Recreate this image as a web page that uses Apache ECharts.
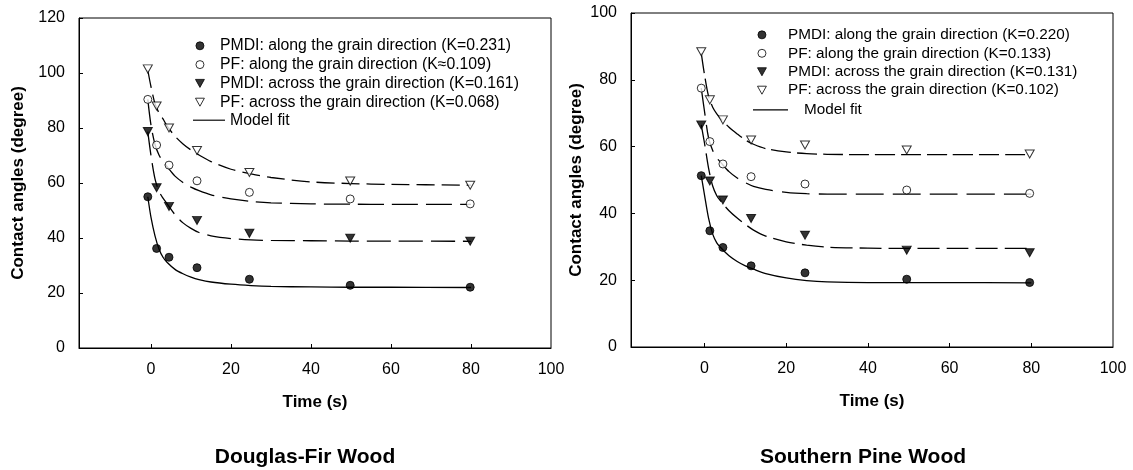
<!DOCTYPE html>
<html>
<head>
<meta charset="utf-8">
<script src="https://cdn.jsdelivr.net/npm/echarts@6/dist/echarts.min.js"></script>
<style>
  html, body { margin: 0; padding: 0; background: #fff; }
  #chart { width: 1133px; height: 470px; }
</style>
</head>
<body>
<div id="chart"></div>
<script>
// measured times (s) of the marker columns
var dfTime = [-0.8, 1.4, 4.5, 11.5, 24.6, 49.8, 79.8];
var spTime = [-0.8, 1.3, 4.5, 11.4, 24.6, 49.5, 79.6];

// Douglas-Fir points (degree)
var dfPmdiAlong = [55.0, 36.2, 33.0, 29.2, 25.0, 22.8, 22.1];
var dfPfAlong = [90.4, 73.8, 66.5, 60.8, 56.6, 54.2, 52.4];
var dfPmdiAcross = [78.7, 58.3, 51.5, 46.4, 41.7, 39.9, 38.8];
var dfPfAcross = [101.5, 88.0, 80.0, 71.8, 63.8, 60.7, 59.2];

// Southern Pine points (degree)
var spPmdiAlong = [51.3, 34.8, 29.8, 24.3, 22.2, 20.3, 19.3];
var spPfAlong = [77.5, 61.5, 54.8, 51.0, 48.8, 47.0, 46.0];
var spPmdiAcross = [66.5, 49.7, 44.0, 38.5, 33.5, 29.0, 28.2];
var spPfAcross = [88.4, 74.0, 68.0, 62.0, 60.5, 59.0, 57.8];

// model fit curves
var fitTime = [-0.8, 0, 1, 2, 3, 4, 6, 8, 10, 12, 15, 20, 25, 30, 40, 50, 60, 80];
var dfFitPmdiAlong = [55.0, 47.5, 40.8, 36.0, 33.0, 31.2, 28.6, 27.0, 25.8, 24.9, 24.0, 23.2, 22.7, 22.4, 22.2, 22.1, 22.1, 22.0];
var dfFitPfAlong = [90.4, 81.0, 74.0, 70.2, 67.8, 66.0, 62.5, 60.2, 58.5, 57.2, 55.7, 54.2, 53.3, 52.8, 52.4, 52.3, 52.2, 52.2];
var dfFitPmdiAcross = [78.7, 70.0, 61.5, 57.0, 54.5, 52.5, 48.5, 45.5, 43.5, 42.0, 40.8, 39.8, 39.3, 39.1, 39.0, 38.9, 38.9, 38.8];
var dfFitPfAcross = [101.0, 95.0, 88.8, 85.5, 83.3, 80.8, 77.0, 74.2, 72.0, 70.2, 67.8, 65.0, 63.3, 62.0, 60.4, 59.8, 59.5, 59.2];
var spFitPmdiAlong = [51.3, 45.5, 38.5, 33.8, 31.2, 29.7, 27.3, 25.6, 24.3, 23.3, 22.0, 20.7, 19.9, 19.5, 19.3, 19.3, 19.3, 19.2];
var spFitPfAlong = [77.5, 70.5, 62.5, 58.8, 56.6, 55.2, 52.5, 50.6, 49.2, 48.1, 47.2, 46.3, 45.9, 45.8, 45.8, 45.8, 45.8, 45.8];
var spFitPmdiAcross = [66.5, 61.0, 53.5, 48.2, 45.3, 43.6, 40.8, 38.6, 36.7, 35.0, 33.2, 31.5, 30.5, 29.9, 29.6, 29.5, 29.5, 29.5];
var spFitPfAcross = [88.0, 81.5, 75.0, 71.8, 69.8, 68.3, 65.8, 63.8, 62.0, 60.7, 59.4, 58.4, 57.9, 57.7, 57.6, 57.6, 57.6, 57.6];

var xTicks = [0, 20, 40, 60, 80, 100];
var dfNames = [
  'PMDI: along the grain direction (K=0.231)',
  'PF: along the grain direction (K\u22480.109)',
  'PMDI: across the grain direction (K=0.161)',
  'PF: across the grain direction (K=0.068)'
];
var spNames = [
  'PMDI: along the grain direction (K=0.220)',
  'PF: along the grain direction (K=0.133)',
  'PMDI: across the grain direction (K=0.131)',
  'PF: across the grain direction (K=0.102)'
];

var FONT = 'Liberation Sans, Arial, Helvetica, sans-serif';
var DOWN_TRI = 'path://M0,0L10,0L5,9Z';

function pairs(xs, ys) {
  return ys.map(function (v, i) { return [xs[i], v]; });
}

function xAxisFor(idx, min) {
  return {
    gridIndex: idx, type: 'value', min: min, max: 100,
    name: 'Time (s)', nameLocation: 'middle', nameGap: 46,
    nameTextStyle: { fontFamily: FONT, fontSize: 17, fontWeight: 'bold', color: '#000' },
    axisLine: { onZero: false, lineStyle: { color: '#000', width: 1 } },
    axisTick: { inside: true, length: 4, customValues: xTicks.slice(0, 5), lineStyle: { color: '#000' } },
    axisLabel: { customValues: xTicks, margin: 14, fontFamily: FONT, fontSize: 16, color: '#000' },
    splitLine: { show: false }
  };
}

function yAxisFor(idx, max, gap) {
  return {
    gridIndex: idx, type: 'value', min: 0, max: max, interval: 20,
    name: 'Contact angles (degree)', nameLocation: 'middle', nameGap: gap, nameRotate: 90,
    nameTextStyle: { fontFamily: FONT, fontSize: 17, fontWeight: 'bold', color: '#000' },
    axisLine: { onZero: false, lineStyle: { color: '#000', width: 1 } },
    axisTick: { inside: true, length: 4, lineStyle: { color: '#000' } },
    axisLabel: { margin: 14, fontFamily: FONT, fontSize: 16, color: '#000' },
    splitLine: { show: false }
  };
}

function pointSeries(idx, name, xs, ys, kind) {
  var s = {
    name: name, type: 'scatter', xAxisIndex: idx, yAxisIndex: idx, z: 5,
    data: pairs(xs, ys), symbolSize: 8,
    itemStyle: { color: '#000', borderColor: '#000', borderWidth: 1 }
  };
  if (kind === 'openCircle') { s.symbol = 'circle'; s.itemStyle.color = '#fff'; }
  if (kind === 'circle') { s.symbol = 'circle'; }
  if (kind === 'tri') { s.symbol = DOWN_TRI; s.symbolSize = [9, 8]; }
  if (kind === 'openTri') { s.symbol = DOWN_TRI; s.symbolSize = [9, 8]; s.itemStyle.color = '#fff'; }
  return s;
}

function fitSeries(idx, name, ys, dash) {
  return {
    name: name, type: 'line', xAxisIndex: idx, yAxisIndex: idx, z: 3,
    data: pairs(fitTime, ys), symbol: 'none', smooth: 0.3, color: '#000',
    lineStyle: { color: '#000', width: 1.3, type: dash || 'solid' }
  };
}

// markers centred at mx, text starting at tx, first row centred at y0
function legendPair(names, mx, tx, y0, rowGap, fitLeft, fitWidth, fs) {
  var w = (tx - 5 - mx) * 2;
  return [{
    data: names, orient: 'vertical', left: mx - w / 2, top: y0 - fs / 2, itemGap: rowGap - fs,
    padding: 0, itemWidth: w, itemHeight: 8, selectedMode: false,
    itemStyle: { borderWidth: 1, borderColor: '#000' },
    textStyle: { fontFamily: FONT, fontSize: fs, color: '#000' }
  }, {
    data: [{ name: 'Model fit', icon: 'path://M0,0H36V1.3H0Z' }],
    orient: 'vertical', left: fitLeft, top: y0 + 4 * rowGap - fs / 2,
    padding: 0, itemWidth: fitWidth, itemHeight: 8, selectedMode: false,
    itemStyle: { color: '#000', borderWidth: 0 },
    textStyle: { fontFamily: FONT, fontSize: fs, color: '#000', padding: [0, 0, 0, tx - 5 - fitLeft - fitWidth] }
  }];
}

var chart = echarts.init(document.getElementById('chart'), null, { renderer: 'canvas' });

var option = {
  animation: false,
  backgroundColor: '#fff',
  textStyle: { fontFamily: FONT },
  title: [
    { text: 'Douglas-Fir Wood', left: 305, top: 447, textAlign: 'center', padding: 0,
      textStyle: { fontFamily: FONT, fontSize: 21, fontWeight: 'bold', color: '#000' } },
    { text: 'Southern Pine Wood', left: 863, top: 447, textAlign: 'center', padding: 0,
      textStyle: { fontFamily: FONT, fontSize: 21, fontWeight: 'bold', color: '#000' } }
  ],
  legend: legendPair(dfNames, 210, 230, 45.7, 18.6, 193, 32, 15.8)
    .concat(legendPair(spNames, 778, 804, 35, 18.75, 753, 35, 15.3)),
  grid: [
    { left: 79, top: 18, width: 472, height: 330, show: true, borderColor: '#000', borderWidth: 1 },
    { left: 631, top: 13, width: 482, height: 334, show: true, borderColor: '#000', borderWidth: 1 }
  ],
  xAxis: [xAxisFor(0, -18), xAxisFor(1, -18)],
  yAxis: [yAxisFor(0, 120, 52), yAxisFor(1, 100, 46)],
  series: [
    fitSeries(0, 'Model fit', dfFitPmdiAlong),
    fitSeries(0, 'df fit PF along', dfFitPfAlong, [26, 8]),
    fitSeries(0, 'df fit PMDI across', dfFitPmdiAcross, [24, 8]),
    fitSeries(0, 'df fit PF across', dfFitPfAcross, [18, 7]),
    pointSeries(0, dfNames[0], dfTime, dfPmdiAlong, 'circle'),
    pointSeries(0, dfNames[1], dfTime, dfPfAlong, 'openCircle'),
    pointSeries(0, dfNames[2], dfTime, dfPmdiAcross, 'tri'),
    pointSeries(0, dfNames[3], dfTime, dfPfAcross, 'openTri'),

    fitSeries(1, 'Model fit', spFitPmdiAlong),
    fitSeries(1, 'sp fit PF along', spFitPfAlong, [28, 9]),
    fitSeries(1, 'sp fit PMDI across', spFitPmdiAcross, [22, 7]),
    fitSeries(1, 'sp fit PF across', spFitPfAcross, [20, 6]),
    pointSeries(1, spNames[0], spTime, spPmdiAlong, 'circle'),
    pointSeries(1, spNames[1], spTime, spPfAlong, 'openCircle'),
    pointSeries(1, spNames[2], spTime, spPmdiAcross, 'tri'),
    pointSeries(1, spNames[3], spTime, spPfAcross, 'openTri')
  ]
};

chart.setOption(option);
</script>
</body>
</html>
